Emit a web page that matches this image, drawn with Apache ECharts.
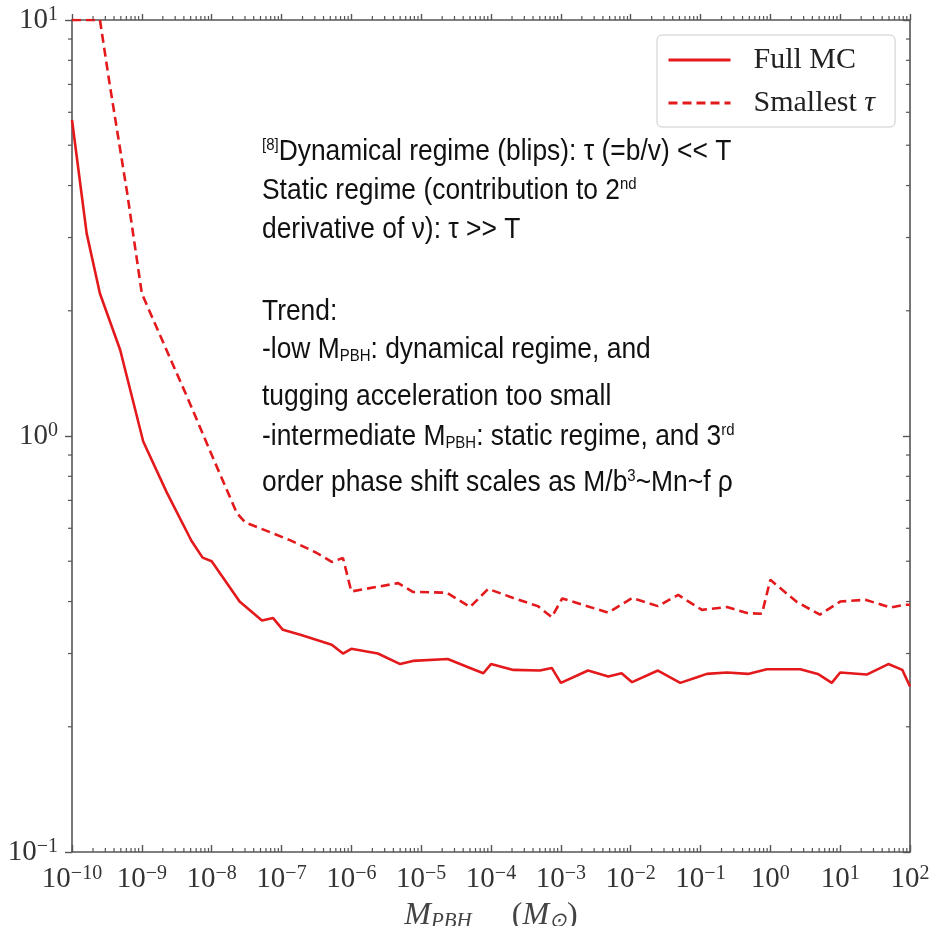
<!DOCTYPE html>
<html>
<head>
<meta charset="utf-8">
<script src="https://cdn.jsdelivr.net/npm/echarts@6/dist/echarts.min.js"></script>
<style>
  html, body { margin: 0; padding: 0; background: #fff; }
  #chart { width: 932px; height: 926px; }
</style>
</head>
<body>
<div id="chart"></div>
<script>
// values (x as log10 of mass in solar masses)
const fullMcLogM = [-10, -9.79, -9.6, -9.31, -8.98, -8.64, -8.29, -8.13, -8.0, -7.6, -7.28, -7.12, -6.98,
  -6.73, -6.28, -6.12, -6.0, -5.62, -5.3, -5.12, -4.62, -4.3, -4.11, -4.0, -3.68, -3.3, -3.13, -3.0,
  -2.61, -2.32, -2.13, -1.98, -1.61, -1.29, -1.05, -0.91, -0.62, -0.32, -0.05, 0.43, 0.68, 0.88, 1.0,
  1.38, 1.69, 1.89, 2.0];
const fullMc = [5.75, 3.07, 2.2, 1.61, 0.97, 0.73, 0.56, 0.51, 0.5, 0.4, 0.36, 0.365, 0.342,
  0.333, 0.315, 0.3, 0.308, 0.3, 0.283, 0.288, 0.291, 0.277, 0.269, 0.283, 0.274, 0.273, 0.277, 0.255,
  0.273, 0.264, 0.269, 0.256, 0.273, 0.255, 0.263, 0.268, 0.27, 0.268, 0.275, 0.275, 0.268, 0.255, 0.27,
  0.267, 0.283, 0.274, 0.25];

const smallestTauLogM = [-10, -9.6, -9.46, -9.21, -9.0, -8.64, -8.35, -7.98, -7.64, -7.52, -7.14, -6.88,
  -6.5, -6.28, -6.12, -6.0, -5.33, -5.12, -4.63, -4.3, -4.04, -3.68, -3.33, -3.13, -2.98, -2.32, -1.98,
  -1.61, -1.32, -0.98, -0.62, -0.32, -0.12, 0.0, 0.38, 0.71, 1.0, 1.36, 1.72, 1.93, 2.0];
const smallestTau = [10, 10, 7.0, 3.84, 2.2, 1.6, 1.24, 0.885, 0.653, 0.62, 0.585, 0.562,
  0.524, 0.498, 0.509, 0.423, 0.443, 0.422, 0.42, 0.388, 0.429, 0.408, 0.39, 0.367, 0.407, 0.376, 0.408,
  0.39, 0.415, 0.382, 0.388, 0.375, 0.374, 0.451, 0.399, 0.372, 0.4, 0.404, 0.387, 0.393, 0.393];

const seriesNames = ['Full MC', 'Smallest τ'];

const notes = [
  '{sup|[8]}Dynamical regime (blips): τ (=b/v) << T',
  'Static regime (contribution to 2{sup|nd}',
  'derivative of ν): τ >> T',
  'Trend:',
  '-low M{sub|PBH}: dynamical regime, and',
  'tugging acceleration too small',
  '-intermediate M{sub|PBH}: static regime, and 3{sup|rd}',
  'order phase shift scales as M/b{sup|3}~Mn~f ρ'
];
const noteY = [152, 191, 230, 312, 350, 397, 437, 483];

const red = '#e3191c';
const axisColor = '#555';
const serif = 'Liberation Serif';

const toPairs = (xs, ys) => xs.map((e, i) => [Math.pow(10, e), ys[i]]);

// minor tick positions for the log axes
const minorX = [];
for (let k = -10; k < 2; k++) for (let m = 2; m <= 9; m++) minorX.push([m * Math.pow(10, k), 1]);
const minorY = [];
for (let k = -1; k < 1; k++) for (let m = 2; m <= 9; m++) minorY.push([1, m * Math.pow(10, k)]);

const powLabel = v => {
  const e = Math.round(Math.log10(v));
  return '{b|10}{s|' + String(e).replace('-', '\u2212') + '}';
};
const labelRich = {
  b: { fontFamily: serif, fontSize: 29, color: '#333', lineHeight: 30 },
  s: { fontFamily: serif, fontSize: 20, color: '#333', verticalAlign: 'top', lineHeight: 18 }
};

const chart = echarts.init(document.getElementById('chart'));

const baseX = {
  type: 'log', logBase: 10, min: 1e-10, max: 1e2, interval: 1,
  splitLine: { show: false }, minorTick: { show: false },
  axisLine: { lineStyle: { color: axisColor, width: 1.6 } }
};
const baseY = {
  type: 'log', logBase: 10, min: 0.1, max: 10, interval: 1,
  splitLine: { show: false }, minorTick: { show: false },
  axisLine: { lineStyle: { color: axisColor, width: 1.6 } }
};

chart.setOption({
  backgroundColor: '#fff',
  animation: false,
  grid: { left: 72, right: 22, top: 20, bottom: 74, containLabel: false, outerBoundsMode: 'none' },
  legend: {
    orient: 'vertical',
    left: 657, top: 35,
    padding: [10, 20, 9, 10],
    itemWidth: 62, itemHeight: 24, itemGap: 13,
    borderColor: '#ccc', borderWidth: 1, borderRadius: 5,
    itemStyle: { opacity: 0 },
    lineStyle: { width: 3 },
    data: seriesNames,
    textStyle: {
      fontFamily: serif, fontSize: 30, color: '#222', padding: [0, 0, 0, 18],
      rich: { i: { fontFamily: serif, fontStyle: 'italic', fontSize: 30, color: '#222' } }
    },
    formatter: n => n === 'Smallest τ' ? 'Smallest {i|τ}' : n
  },
  xAxis: [
    Object.assign({}, baseX, {
      position: 'bottom',
      axisTick: { inside: true, length: 7, lineStyle: { color: axisColor, width: 1.4 } },
      axisLabel: { margin: 12, interval: 0, hideOverlap: false, formatter: powLabel, rich: labelRich, showMinLabel: true, showMaxLabel: true },
      name: '{i|M}{sub|PBH}     ({i|M}{sub|⊙})',
      nameLocation: 'middle', nameGap: 48, nameMoveOverlap: false,
      nameTextStyle: {
        rich: {
          i: { fontFamily: serif, fontStyle: 'italic', fontSize: 32, color: '#444', lineHeight: 32 },
          sub: { fontFamily: serif, fontStyle: 'italic', fontSize: 21, color: '#444', verticalAlign: 'bottom', lineHeight: 20 }
        },
        fontFamily: serif, fontSize: 32, color: '#444'
      }
    }),
    Object.assign({}, baseX, {
      position: 'top',
      axisTick: { inside: false, length: 6, lineStyle: { color: axisColor, width: 1.4 } },
      axisLabel: { show: false }
    })
  ],
  yAxis: [
    Object.assign({}, baseY, {
      position: 'left',
      axisTick: { inside: false, length: 7, lineStyle: { color: axisColor, width: 1.4 } },
      axisLabel: { margin: 14, formatter: powLabel, rich: labelRich, showMinLabel: true, showMaxLabel: true }
    }),
    Object.assign({}, baseY, {
      position: 'right',
      axisTick: { inside: true, length: 7, lineStyle: { color: axisColor, width: 1.4 } },
      axisLabel: { show: false }
    })
  ],
  series: [
    {
      name: seriesNames[0], type: 'line', data: toPairs(fullMcLogM, fullMc),
      showSymbol: false, symbol: 'none',
      lineStyle: { color: red, width: 2.6 }, itemStyle: { color: red }, z: 3
    },
    {
      name: seriesNames[1], type: 'line', data: toPairs(smallestTauLogM, smallestTau),
      showSymbol: false, symbol: 'none',
      lineStyle: { color: red, width: 2.6, type: [9, 5] }, itemStyle: { color: red }, z: 3
    },
    {
      type: 'custom', silent: true, data: minorX, z: 4,
      renderItem: (params, api) => {
        const p = api.coord([api.value(0), 1]);
        const cs = params.coordSys;
        const st = { stroke: axisColor, lineWidth: 1.2 };
        return { type: 'group', children: [
          { type: 'line', shape: { x1: p[0], y1: cs.y + cs.height, x2: p[0], y2: cs.y + cs.height - 4 }, style: st },
          { type: 'line', shape: { x1: p[0], y1: cs.y, x2: p[0], y2: cs.y - 4 }, style: st }
        ] };
      }
    },
    {
      type: 'custom', silent: true, data: minorY, z: 4,
      renderItem: (params, api) => {
        const p = api.coord([1, api.value(1)]);
        const cs = params.coordSys;
        const st = { stroke: axisColor, lineWidth: 1.2 };
        return { type: 'group', children: [
          { type: 'line', shape: { x1: cs.x, y1: p[1], x2: cs.x - 4, y2: p[1] }, style: st },
          { type: 'line', shape: { x1: cs.x + cs.width, y1: p[1], x2: cs.x + cs.width - 4, y2: p[1] }, style: st }
        ] };
      }
    }
  ],
  graphic: [{
    type: 'group', x: 262, y: 0, scaleX: 0.88,
    children: notes.map((t, i) => ({
      type: 'text', x: 0, y: noteY[i],
      style: {
        text: t,
        fontFamily: 'Liberation Sans', fontSize: 30, fill: '#111',
        verticalAlign: 'middle',
        rich: {
          sup: { fontFamily: 'Liberation Sans', fontSize: 17, fill: '#111', verticalAlign: 'top', lineHeight: 18 },
          sub: { fontFamily: 'Liberation Sans', fontSize: 17, fill: '#111', verticalAlign: 'bottom', lineHeight: 18 }
        }
      }
    }))
  }]
});
</script>
</body>
</html>
